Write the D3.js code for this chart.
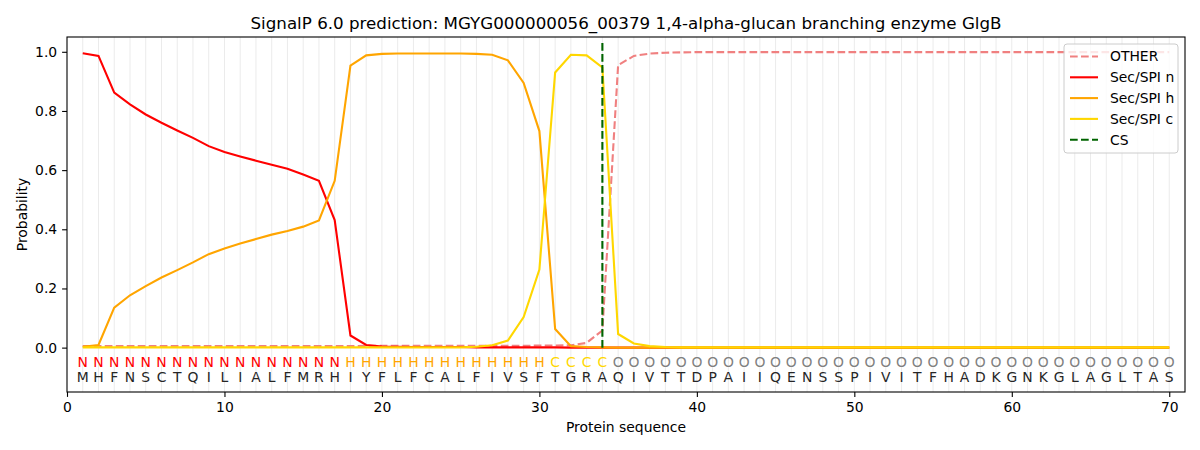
<!DOCTYPE html>
<html><head><meta charset="utf-8">
<script src="https://cdn.jsdelivr.net/npm/d3@7/dist/d3.min.js"></script>
<style>
body{margin:0;background:#fff;}
svg{font-family:"DejaVu Sans",sans-serif;}
</style></head>
<body><div id="chart"></div>
<script>
const sequence = "MHFNSCTQILIALFMRHIYFLFCALFIVSFTGRAQIVTTDPAIIQENSSPIVITFHADKGNKGLAGLTAS".split("");
const labels = "NNNNNNNNNNNNNNNNNHHHHHHHHHHHHHCCCCOOOOOOOOOOOOOOOOOOOOOOOOOOOOOOOOOOOO".split("");
const positions = d3.range(1, 71);
const cleavageSite = 34;

const otherVals = [0.005,0.005,0.005,0.005,0.005,0.005,0.005,0.005,0.005,0.005,
  0.005,0.005,0.005,0.005,0.005,0.005,0.005,0.005,0.006,0.006,
  0.006,0.006,0.006,0.006,0.006,0.006,0.006,0.006,0.006,0.007,
  0.007,0.008,0.016,0.058,0.955,0.986,0.994,0.997,0.998,0.999,
  0.999,0.999,0.999,0.999,0.999,0.999,0.999,0.999,0.999,0.999,
  0.999,0.999,0.999,0.999,0.999,0.999,0.999,0.999,0.999,0.999,
  0.999,0.999,0.999,0.999,0.999,0.999,0.999,0.999,0.999,0.999];
const nVals = [0.995,0.986,0.862,0.822,0.788,0.760,0.734,0.709,0.681,0.661,
  0.646,0.632,0.618,0.605,0.585,0.564,0.431,0.041,0.009,0.004,
  0.003,0.002,0.002,0.002,0.002,0.001,0.001,0.001,0.001,0.001,
  0.001,0.000,0,0,0,0,0,0,0,0,
  0,0,0,0,0,0,0,0,0,0,
  0,0,0,0,0,0,0,0,0,0,
  0,0,0,0,0,0,0,0,0,0];
const hVals = [0.003,0.009,0.135,0.177,0.208,0.237,0.262,0.288,0.316,0.335,
  0.352,0.367,0.382,0.394,0.409,0.430,0.564,0.953,0.988,0.993,
  0.994,0.994,0.994,0.994,0.994,0.993,0.990,0.971,0.895,0.732,
  0.063,0.005,0.002,0.001,0,0,0,0,0,0,
  0,0,0,0,0,0,0,0,0,0,
  0,0,0,0,0,0,0,0,0,0,
  0,0,0,0,0,0,0,0,0,0];
const cVals = [0.001,0.001,0.001,0.001,0.001,0.001,0.001,0.001,0.001,0.001,
  0.001,0.001,0.001,0.001,0.001,0.001,0.001,0.001,0.001,0.001,
  0.001,0.001,0.001,0.001,0.001,0.003,0.008,0.024,0.103,0.264,
  0.930,0.990,0.988,0.947,0.046,0.014,0.005,0.002,0.001,0.001,
  0.001,0.001,0.001,0.001,0.001,0.001,0.001,0.001,0.001,0.001,
  0.001,0.001,0.001,0.001,0.001,0.001,0.001,0.001,0.001,0.001,
  0.001,0.001,0.001,0.001,0.001,0.001,0.001,0.001,0.001,0.001];
const xTicks = [0,10,20,30,40,50,60,70];
const yTicks = [0,0.2,0.4,0.6,0.8,1.0];

const series = [
  {name:"OTHER", vals:otherVals, color:"#f08080", dash:"7.7,3.3"},
  {name:"Sec/SPI n", vals:nVals, color:"#ff0000", dash:null},
  {name:"Sec/SPI h", vals:hVals, color:"#ffa500", dash:null},
  {name:"Sec/SPI c", vals:cVals, color:"#ffd700", dash:null}
];
const labelColor = {N:"#ff0000", H:"#ffa500", C:"#ffd700", O:"#808080"};

const W=1200, H=450;
const m = {l:67, r:15, t:37, b:58};
const svg = d3.select("#chart").append("svg").attr("width",W).attr("height",H);
const x = d3.scaleLinear().domain([0,71]).range([m.l, W-m.r]);
const y = d3.scaleLinear().domain([-0.15,1.05]).range([H-m.b, m.t]);

// grid
svg.append("g").selectAll("line").data(positions).join("line")
  .attr("x1",d=>x(d)).attr("x2",d=>x(d)).attr("y1",y(-0.15)).attr("y2",y(1.05))
  .attr("stroke","#ebebeb").attr("stroke-width",1);

const line = vals => d3.line().x((d,i)=>x(positions[i])).y(d=>y(d))(vals);
series.forEach(s=>{
  svg.append("path").attr("d",line(s.vals)).attr("fill","none")
    .attr("stroke",s.color).attr("stroke-width",2.1)
    .attr("stroke-dasharray",s.dash);
});
svg.append("line").attr("x1",x(cleavageSite)).attr("x2",x(cleavageSite))
  .attr("y1",y(0)).attr("y2",y(1.037))
  .attr("stroke","#006400").attr("stroke-width",2.1).attr("stroke-dasharray","7.7,3.3");

// letters
svg.append("g").selectAll("text").data(labels).join("text")
  .attr("x",(d,i)=>x(positions[i])).attr("y",y(-0.048)).attr("dy","0.35em")
  .attr("text-anchor","middle").attr("font-size",13.9).attr("fill",d=>labelColor[d]).text(d=>d);
svg.append("g").selectAll("text").data(sequence).join("text")
  .attr("x",(d,i)=>x(positions[i])).attr("y",y(-0.101)).attr("dy","0.35em")
  .attr("text-anchor","middle").attr("font-size",13.9).attr("fill","#262626").text(d=>d);

// axes
const xa = svg.append("g").attr("transform",`translate(0,${H-m.b})`)
  .call(d3.axisBottom(x).tickValues(xTicks).tickFormat(d3.format("d")).tickSize(4.9).tickPadding(4.9));
const ya = svg.append("g").attr("transform",`translate(${m.l},0)`)
  .call(d3.axisLeft(y).tickValues(yTicks).tickFormat(d3.format(".1f")).tickSize(4.9).tickPadding(4.9));
[xa,ya].forEach(a=>{a.selectAll("text").attr("font-size",13.9).attr("fill","#000").attr("font-family","DejaVu Sans");
  a.selectAll("line").attr("stroke","#000").attr("stroke-width",1.1);
  a.select(".domain").remove();});
svg.append("rect").attr("x",m.l).attr("y",m.t).attr("width",W-m.r-m.l).attr("height",H-m.b-m.t)
  .attr("fill","none").attr("stroke","#000").attr("stroke-width",1.1);

svg.append("text").attr("x",(m.l+W-m.r)/2).attr("y",23).attr("dy","0.35em").attr("text-anchor","middle")
  .attr("font-size",16.7).text("SignalP 6.0 prediction: MGYG000000056_00379 1,4-alpha-glucan branching enzyme GlgB");
svg.append("text").attr("x",(m.l+W-m.r)/2).attr("y",427).attr("dy","0.35em").attr("text-anchor","middle")
  .attr("font-size",13.9).text("Protein sequence");
svg.append("text").attr("transform",`translate(22,${(m.t+H-m.b)/2}) rotate(-90)`).attr("dy","0.35em")
  .attr("text-anchor","middle").attr("font-size",13.9).text("Probability");

// legend
const leg = svg.append("g");
leg.append("rect").attr("x",1064).attr("y",44).attr("width",114).attr("height",109).attr("rx",3)
  .attr("fill","#fff").attr("fill-opacity",0.8).attr("stroke","#cccccc").attr("stroke-width",1);
const legItems = series.map(s=>({name:s.name,color:s.color,dash:s.dash}))
  .concat([{name:"CS",color:"#006400",dash:"7.7,3.3"}]);
legItems.forEach((it,i)=>{
  const yy = 56.5 + i*20.8;
  leg.append("line").attr("x1",1070).attr("x2",1098).attr("y1",yy).attr("y2",yy)
    .attr("stroke",it.color).attr("stroke-width",2.1).attr("stroke-dasharray",it.dash);
  leg.append("text").attr("x",1110).attr("y",yy).attr("dy","0.35em").attr("font-size",13.9).text(it.name);
});
</script></body></html>
